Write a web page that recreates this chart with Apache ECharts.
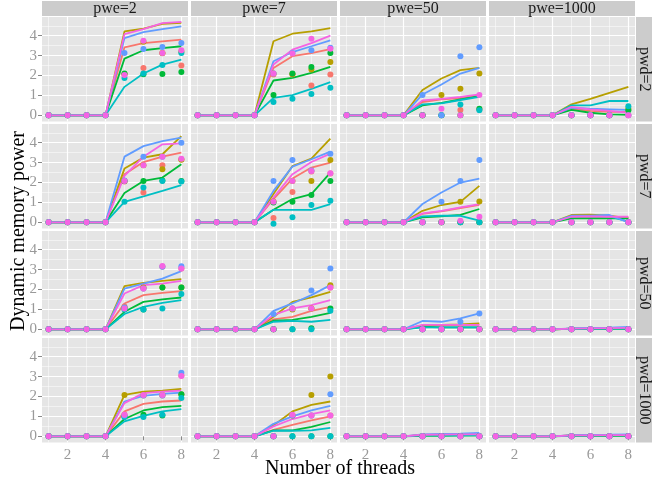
<!DOCTYPE html>
<html>
<head>
<meta charset="utf-8">
<script src="https://cdn.jsdelivr.net/npm/echarts@6/dist/echarts.min.js"></script>
<style>
  html, body { margin: 0; padding: 0; background: #fff; }
  #main { width: 662px; height: 483px; }
</style>
</head>
<body>
<div id="main"></div>
<script>
// facets
const pweLevels = ['pwe=2', 'pwe=7', 'pwe=50', 'pwe=1000'];
const pwdLevels = ['pwd=2', 'pwd=7', 'pwd=50', 'pwd=1000'];
const threads = [1, 2, 3, 4, 5, 6, 7, 8];
// ggplot hue palette, 6 groups
const groupColors = ['#F8766D', '#B79F00', '#00BA38', '#00BFC4', '#619CFF', '#F564E3'];
const xMajor = [2, 4, 6, 8];
const xMinor = [1, 3, 5, 7];
const yMajor = [0, 1, 2, 3, 4];
const yMinor = [0.5, 1.5, 2.5, 3.5, 4.5];

// lines: values for threads 5..8 (threads 1..4 are 0)
// order per panel: red, olive, green, cyan, blue, pink
const line_2_2 = [[3.42, 3.63, 3.72, 3.8], [4.22, 4.35, 4.6, 4.64], [2.85, 3.27, 3.38, 3.47], [1.43, 2.1, 2.55, 2.8], [3.88, 4.18, 4.33, 4.47], [4.08, 4.33, 4.63, 4.7]];
const line_2_7 = [[2.38, 2.97, 3.13, 3.33], [3.72, 4.1, 4.22, 4.38], [1.75, 1.88, 2.13, 2.43], [0.88, 1.02, 1.33, 1.67], [2.72, 3.18, 3.47, 3.77], [2.55, 3.3, 3.63, 4.0]];
const line_2_50 = [[0.67, 0.8, 0.87, 1.0], [1.27, 1.85, 2.27, 2.38], [0.5, 0.63, 0.8, 0.97], [0.55, 0.6, 0.77, 0.93], [1.05, 1.55, 2.1, 2.38], [0.75, 0.83, 0.93, 1.05]];
const line_2_1000 = [[0.33, 0.22, 0.17, 0.17], [0.55, 0.83, 1.13, 1.43], [0.27, 0.13, 0.05, 0.02], [0.5, 0.5, 0.72, 0.72], [0.38, 0.33, 0.3, 0.27], [0.43, 0.3, 0.22, 0.13]];
const line_7_2 = [[2.42, 3.03, 3.3, 3.5], [2.7, 3.25, 3.42, 4.33], [1.47, 2.08, 2.25, 2.92], [1.03, 1.3, 1.58, 1.87], [3.3, 3.83, 4.08, 4.25], [2.33, 3.3, 3.92, 3.97]];
const line_7_7 = [[1.17, 2.2, 2.75, 3.0], [1.42, 2.83, 3.2, 4.2], [0.63, 1.17, 1.42, 2.5], [0.63, 0.63, 0.63, 0.92], [1.58, 2.8, 3.17, 3.55], [1.25, 2.42, 3.03, 3.45]];
const line_7_50 = [[0.42, 0.55, 0.72, 0.88], [0.58, 0.87, 1.03, 1.83], [0.25, 0.3, 0.37, 0.67], [0.3, 0.33, 0.33, 0.08], [0.92, 1.5, 2.0, 2.2], [0.45, 0.58, 0.75, 0.92]];
const line_7_1000 = [[0.28, 0.28, 0.27, 0.25], [0.37, 0.38, 0.33, 0.2], [0.2, 0.2, 0.2, 0.2], [0.3, 0.3, 0.3, 0.03], [0.33, 0.33, 0.37, 0.0], [0.28, 0.3, 0.28, 0.28]];
const line_50_2 = [[1.3, 1.72, 1.83, 1.92], [2.17, 2.33, 2.43, 2.52], [0.88, 1.38, 1.5, 1.6], [0.77, 1.13, 1.33, 1.47], [2.05, 2.3, 2.55, 2.92], [1.8, 2.22, 2.3, 2.43]];
const line_50_7 = [[0.5, 0.63, 0.93, 1.13], [0.63, 1.38, 1.6, 1.88], [0.43, 0.47, 0.63, 0.83], [0.38, 0.42, 0.38, 0.47], [0.93, 1.3, 1.72, 2.22], [0.72, 1.05, 1.22, 1.47]];
const line_50_50 = [[0.2, 0.2, 0.22, 0.22], [0.18, 0.22, 0.25, 0.3], [0.13, 0.1, 0.1, 0.1], [0.1, 0.1, 0.1, 0.1], [0.42, 0.38, 0.55, 0.8], [0.22, 0.22, 0.22, 0.22]];
const line_50_1000 = [[0.03, 0.04, 0.05, 0.05], [0.03, 0.04, 0.05, 0.05], [0.02, 0.02, 0.03, 0.03], [0.03, 0.03, 0.04, 0.04], [0.05, 0.07, 0.09, 0.12], [0.04, 0.05, 0.06, 0.07]];
const line_1000_2 = [[1.25, 1.63, 1.75, 1.8], [2.08, 2.25, 2.3, 2.38], [0.87, 1.3, 1.47, 1.53], [0.75, 1.03, 1.25, 1.37], [1.75, 2.03, 2.13, 2.2], [1.67, 2.17, 2.25, 2.3]];
const line_1000_7 = [[0.33, 0.58, 0.8, 1.0], [0.55, 1.25, 1.58, 1.75], [0.3, 0.3, 0.47, 0.72], [0.28, 0.28, 0.3, 0.42], [0.63, 1.0, 1.3, 1.53], [0.5, 0.87, 1.12, 1.3]];
const line_1000_50 = [[0.07, 0.08, 0.08, 0.09], [0.06, 0.07, 0.07, 0.08], [0.03, 0.03, 0.04, 0.04], [0.05, 0.05, 0.05, 0.06], [0.1, 0.12, 0.13, 0.17], [0.08, 0.09, 0.1, 0.1]];
const line_1000_1000 = [[0.05, 0.05, 0.05, 0.05], [0.05, 0.05, 0.05, 0.06], [0.03, 0.03, 0.03, 0.03], [0.04, 0.04, 0.05, 0.05], [0.06, 0.07, 0.08, 0.1], [0.05, 0.05, 0.06, 0.06]];

// points: values for threads 5..8 (threads 1..4 are 0), same order
const pt_2_2 = [[2.05, 2.38, 3.12, 2.5], [2.08, 3.7, 3.13, 3.2], [2.1, 2.07, 2.08, 2.18], [1.87, 2.1, 2.53, 3.13], [3.13, 3.33, 3.43, 3.63], [2.03, 3.75, 3.13, 3.27]];
const pt_2_7 = [[2.05, 2.07, 1.5, 2.05], [2.1, 2.07, 2.3, 2.68], [1.02, 2.1, 2.43, 3.13], [0.67, 0.83, 1.07, 1.38], [2.1, 3.13, 3.27, 3.4], [2.1, 3.1, 3.85, 3.35]];
const pt_2_50 = [[0, 0, 0.27, 0.3], [0, 1.02, 1.33, 2.1], [0, 0, 0, 0.33], [0, 0, 0.55, 0.25], [1.02, 0, 2.97, 3.42], [0, 0.33, 0, 1.02]];
const pt_2_1000 = [[0, 0, 0, 0], [0, 0, 0, 0.33], [0, 0, 0, 0.25], [0, 0, 0, 0.45], [0, 0, 0, 0], [0, 0, 0, 0]];
const pt_7_2 = [[2.05, 1.5, 2.87, 3.17], [2.08, 2.87, 2.67, 3.15], [2.08, 2.08, 2.1, 2.08], [1.03, 1.75, 2.08, 2.05], [2.1, 3.3, 3.3, 4.0], [2.08, 2.87, 3.3, 3.2]];
const pt_7_7 = [[0.22, 1.53, 2.55, 2.45], [1.05, 2.08, 2.08, 3.13], [1.0, 1.03, 1.37, 2.08], [-0.07, 0.25, 0.87, 1.08], [2.08, 3.13, 2.6, 3.45], [1.03, 2.08, 2.58, 2.47]];
const pt_7_50 = [[0, 0, 0, 0], [0, 0, 1.03, 1.05], [0, 0, 0, 0], [0, 0, 0, 0], [0, 1.03, 2.08, 3.13], [0, 0, 0.08, 0.28]];
const pt_7_1000 = [[0, 0, 0, 0], [0, 0, 0, 0], [0, 0, 0, 0], [0, 0, 0, 0], [0, 0, 0, 0], [0, 0, 0, 0]];
const pt_50_2 = [[1.15, 2.05, 3.15, 3.05], [1.08, 2.1, 2.1, 2.1], [1.05, 1.0, 2.1, 2.1], [1.0, 1.0, 1.05, 1.77], [1.1, 2.05, 3.15, 3.17], [1.05, 2.05, 3.18, 3.05]];
const pt_50_7 = [[0, 1.05, 1.05, 2.1], [0, 1.0, 1.05, 2.22], [0, 0, 0.05, 1.05], [0, 0, 0, 0.93], [0.77, 1.05, 1.95, 3.05], [0, 1.05, 1.05, 2.1]];
const pt_50_50 = [[0, 0, 0, 0], [0, 0, 0, 0], [0, 0, 0, 0], [0, 0, 0, 0], [0, 0, 0.38, 0.8], [0, 0, 0, 0]];
const pt_50_1000 = [[0, 0, 0, 0], [0, 0, 0, 0], [0, 0, 0, 0], [0, 0, 0, 0], [0, 0, 0, 0], [0, 0, 0, 0]];
const pt_1000_2 = [[1.1, 2.05, 2.05, 3.05], [2.08, 2.08, 2.08, 2.1], [1.0, 1.08, 1.05, 2.12], [0.97, 0.97, 1.08, 1.92], [1.05, 2.05, 2.05, 3.2], [1.08, 2.08, 2.08, 3.03]];
const pt_1000_7 = [[0, 1.05, 1.05, 1.05], [0, 1.05, 2.08, 3.0], [0, 0, 0, 0], [0, 0, 0, 0], [0, 1.05, 1.05, 2.12], [0, 1.08, 1.05, 1.05]];
const pt_1000_50 = [[0, 0, 0, 0], [0, 0, 0, 0], [0, 0, 0, 0], [0, 0, 0, 0], [0, 0, 0, 0], [0, 0, 0, 0]];
const pt_1000_1000 = [[0, 0, 0, 0], [0, 0, 0, 0], [0, 0, 0, 0], [0, 0, 0, 0], [0, 0, 0, 0], [0, 0, 0, 0]];

const lineRows = [
  [line_2_2, line_2_7, line_2_50, line_2_1000],
  [line_7_2, line_7_7, line_7_50, line_7_1000],
  [line_50_2, line_50_7, line_50_50, line_50_1000],
  [line_1000_2, line_1000_7, line_1000_50, line_1000_1000]
];
const pointRows = [
  [pt_2_2, pt_2_7, pt_2_50, pt_2_1000],
  [pt_7_2, pt_7_7, pt_7_50, pt_7_1000],
  [pt_50_2, pt_50_7, pt_50_50, pt_50_1000],
  [pt_1000_2, pt_1000_7, pt_1000_50, pt_1000_1000]
];

const FONT = '"Liberation Serif", "DejaVu Serif", serif';
const colLeft = [42, 191, 340, 489];
const rowTop = [17, 124, 231, 338];
const pw = 146, ph = 104.5;

const chart = echarts.init(document.getElementById('main'));

const grids = [], xAxes = [], yAxes = [], series = [], graphics = [];

function xAxisDef(g, ticks, labels, w) {
  return {
    type: 'value', gridIndex: g, position: 'bottom', min: 0.65, max: 8.35,
    axisLine: { show: false },
    axisTick: { show: labels, customValues: ticks, length: 4, lineStyle: { color: '#888' } },
    axisLabel: { show: labels, customValues: ticks, color: '#999', fontSize: 15, fontFamily: FONT, margin: 5 },
    splitLine: { show: true, lineStyle: { color: '#fff', width: w } }
  };
}
function yAxisDef(g, ticks, labels, w) {
  return {
    type: 'value', gridIndex: g, position: 'left', min: -0.31, max: 4.94,
    axisLine: { show: false },
    axisTick: { show: labels, customValues: ticks, length: 4, lineStyle: { color: '#888' } },
    axisLabel: { show: labels, customValues: ticks, color: '#999', fontSize: 15, fontFamily: FONT, margin: 5 },
    splitLine: { show: true, lineStyle: { color: '#fff', width: w } }
  };
}

for (let r = 0; r < 4; r++) {
  for (let c = 0; c < 4; c++) {
    const g = r * 4 + c;
    grids.push({
      left: colLeft[c], top: rowTop[r], width: pw, height: ph,
      show: true, backgroundColor: '#E5E5E5', borderWidth: 0
    });
    xAxes.push(xAxisDef(g, xMajor, r === 3, 1.2));
    xAxes.push(xAxisDef(g, xMinor, false, 0.5));
    yAxes.push(yAxisDef(g, yMajor, c === 0, 1.2));
    yAxes.push(yAxisDef(g, yMinor, false, 0.5));

    const lines = lineRows[r][c];
    const pts = pointRows[r][c];
    groupColors.forEach(function (col, k) {
      const lv = [0, 0, 0, 0].concat(lines[k]);
      series.push({
        type: 'line', xAxisIndex: 2 * g, yAxisIndex: 2 * g,
        data: threads.map(function (t, i) { return [t, lv[i]]; }),
        showSymbol: false, silent: true, z: 3,
        lineStyle: { color: col, width: 1.8 }, itemStyle: { color: col }
      });
    });
    groupColors.forEach(function (col, k) {
      const pv = [0, 0, 0, 0].concat(pts[k]);
      series.push({
        type: 'scatter', xAxisIndex: 2 * g, yAxisIndex: 2 * g,
        data: threads.map(function (t, i) { return [t, pv[i]]; }),
        symbolSize: 6, silent: true, z: 4,
        itemStyle: { color: col, opacity: 1 }
      });
    });
  }
}

// top strips
for (let c = 0; c < 4; c++) {
  graphics.push({
    type: 'rect', shape: { x: colLeft[c], y: 1, width: pw, height: 15 },
    style: { fill: '#CCCCCC' }, silent: true
  });
  graphics.push({
    type: 'text', x: colLeft[c] + pw / 2, y: 9,
    style: { text: pweLevels[c], fill: '#1A1A1A', font: '16px ' + FONT, textAlign: 'center', textVerticalAlign: 'middle' },
    silent: true
  });
}
// right strips
for (let r = 0; r < 4; r++) {
  graphics.push({
    type: 'rect', shape: { x: 636, y: rowTop[r], width: 16, height: ph },
    style: { fill: '#CCCCCC' }, silent: true
  });
  graphics.push({
    type: 'text', x: 644, y: rowTop[r] + ph / 2, rotation: -Math.PI / 2,
    style: { text: pwdLevels[r], fill: '#1A1A1A', font: '16px ' + FONT, textAlign: 'center', textVerticalAlign: 'middle' },
    silent: true
  });
}
// axis titles
graphics.push({
  type: 'text', x: 340, y: 469,
  style: { text: 'Number of threads', fill: '#000', font: '20px ' + FONT, textAlign: 'center', textVerticalAlign: 'middle' },
  silent: true
});
graphics.push({
  type: 'text', x: 19, y: 231, rotation: Math.PI / 2,
  style: { text: 'Dynamic memory power', fill: '#000', font: '20px ' + FONT, textAlign: 'center', textVerticalAlign: 'middle' },
  silent: true
});

chart.setOption({
  animation: false,
  backgroundColor: '#fff',
  grid: grids,
  xAxis: xAxes,
  yAxis: yAxes,
  series: series,
  graphic: graphics
});
</script>
</body>
</html>
